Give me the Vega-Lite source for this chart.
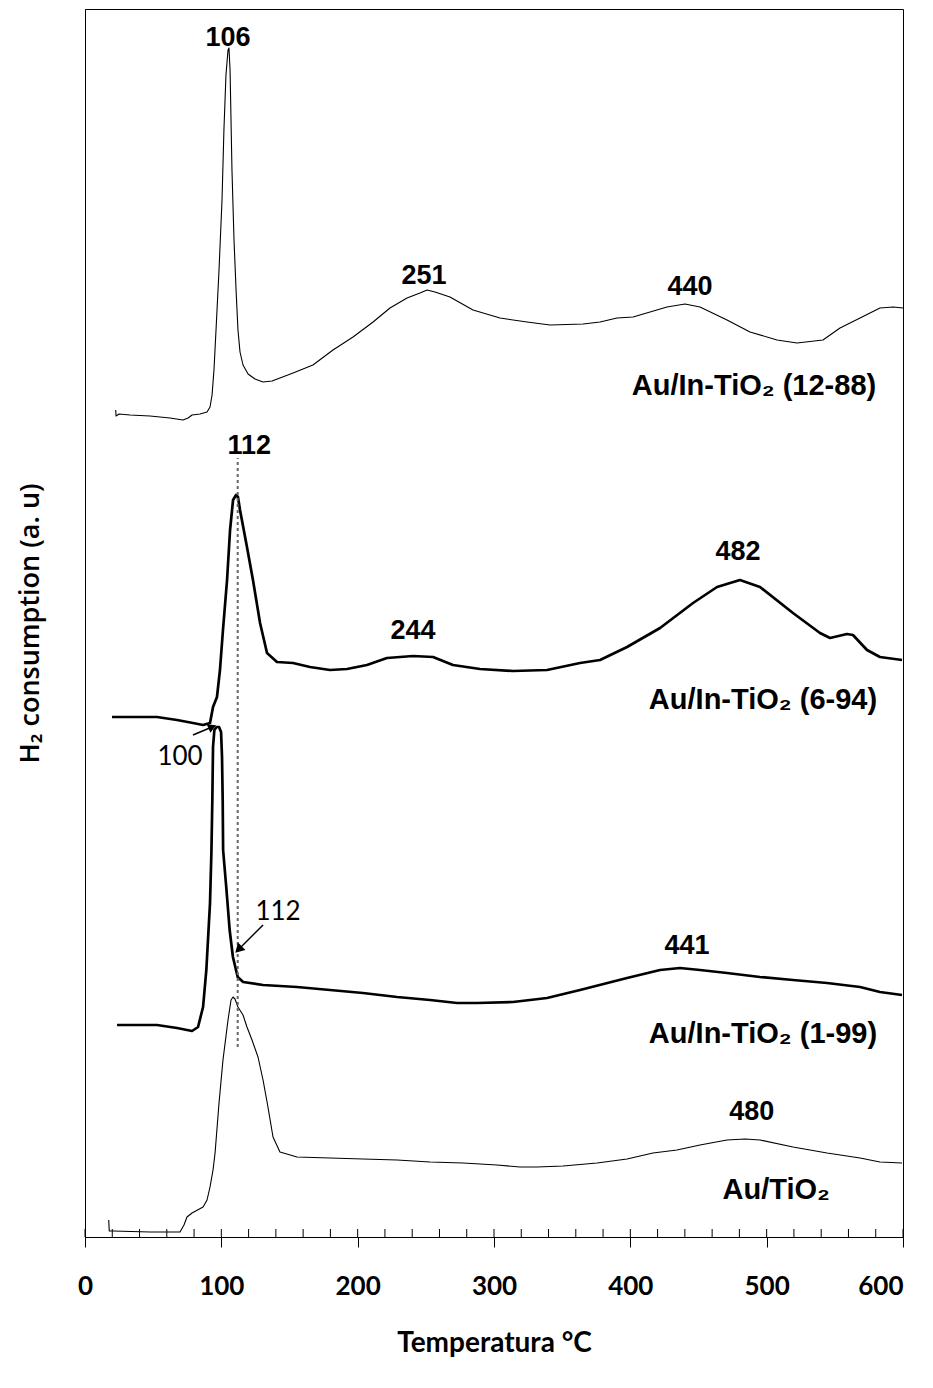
{
  "$schema": "https://vega.github.io/schema/vega-lite/v6.json",
  "width": 818,
  "height": 1228,
  "autosize": {"type": "none"},
  "padding": {"left": 85, "top": 9, "right": 30, "bottom": 151},
  "background": "white",
  "config": {"view": {"stroke": "black", "strokeWidth": 1}},
  "datasets": {
    "curves": [
      {"s":"A","x":22.5,"y":827},{"s":"A","x":22.8,"y":821},{"s":"A","x":25,"y":823},{"s":"A","x":33,"y":822},{"s":"A","x":47.7,"y":821},{"s":"A","x":62.3,"y":819},{"s":"A","x":71.9,"y":817},{"s":"A","x":75.6,"y":819},{"s":"A","x":78.5,"y":822},{"s":"A","x":84.4,"y":823},{"s":"A","x":89.5,"y":825},{"s":"A","x":91.7,"y":830},{"s":"A","x":93.2,"y":842},{"s":"A","x":94.6,"y":867},{"s":"A","x":96.1,"y":907},{"s":"A","x":98.3,"y":967},{"s":"A","x":100.5,"y":1037},{"s":"A","x":101.9,"y":1107},{"s":"A","x":103.4,"y":1162},{"s":"A","x":104.9,"y":1187},{"s":"A","x":105.6,"y":1189},{"s":"A","x":106.4,"y":1167},{"s":"A","x":107.8,"y":1067},{"s":"A","x":109.3,"y":997},{"s":"A","x":110.8,"y":947},{"s":"A","x":112.2,"y":907},{"s":"A","x":113.7,"y":885},{"s":"A","x":115.9,"y":872},{"s":"A","x":119.6,"y":863},{"s":"A","x":124.7,"y":858},{"s":"A","x":130.6,"y":855},{"s":"A","x":137.2,"y":856},{"s":"A","x":143,"y":859},{"s":"A","x":152.6,"y":864},{"s":"A","x":167.2,"y":872},{"s":"A","x":181.9,"y":887},{"s":"A","x":196.6,"y":900},{"s":"A","x":211.3,"y":915},{"s":"A","x":223.7,"y":929},{"s":"A","x":236.2,"y":939},{"s":"A","x":245.7,"y":944},{"s":"A","x":250.9,"y":947},{"s":"A","x":256.7,"y":945},{"s":"A","x":267.7,"y":940},{"s":"A","x":284.6,"y":927},{"s":"A","x":304.4,"y":919},{"s":"A","x":324.2,"y":915},{"s":"A","x":341.1,"y":912},{"s":"A","x":365.3,"y":913},{"s":"A","x":377.8,"y":915},{"s":"A","x":390.2,"y":919},{"s":"A","x":402,"y":920},{"s":"A","x":426.9,"y":930},{"s":"A","x":440.1,"y":933},{"s":"A","x":451.1,"y":930},{"s":"A","x":470.9,"y":917},{"s":"A","x":487.8,"y":905},{"s":"A","x":507.6,"y":897},{"s":"A","x":522.3,"y":894},{"s":"A","x":541.3,"y":897},{"s":"A","x":553.8,"y":909},{"s":"A","x":568.5,"y":919},{"s":"A","x":583.1,"y":929},{"s":"A","x":592.7,"y":930},{"s":"A","x":600,"y":929},
      {"s":"B","x":19.8,"y":520},{"s":"B","x":52.8,"y":520},{"s":"B","x":67.5,"y":517},{"s":"B","x":79.2,"y":514},{"s":"B","x":86.6,"y":512},{"s":"B","x":91.7,"y":514},{"s":"B","x":93.9,"y":530},{"s":"B","x":96.8,"y":540},{"s":"B","x":99,"y":567},{"s":"B","x":101.2,"y":607},{"s":"B","x":104.2,"y":657},{"s":"B","x":106.4,"y":707},{"s":"B","x":108.6,"y":737},{"s":"B","x":110.8,"y":742},{"s":"B","x":112.2,"y":740},{"s":"B","x":113.7,"y":727},{"s":"B","x":118.8,"y":690},{"s":"B","x":123.2,"y":657},{"s":"B","x":128.4,"y":614},{"s":"B","x":133.5,"y":584},{"s":"B","x":140.8,"y":575},{"s":"B","x":152.6,"y":574},{"s":"B","x":165,"y":570},{"s":"B","x":179.7,"y":567},{"s":"B","x":192.2,"y":568},{"s":"B","x":206.8,"y":572},{"s":"B","x":221.5,"y":579},{"s":"B","x":240.6,"y":581},{"s":"B","x":255.3,"y":580},{"s":"B","x":269.9,"y":572},{"s":"B","x":289.7,"y":568},{"s":"B","x":313.9,"y":566},{"s":"B","x":338.9,"y":567},{"s":"B","x":363.1,"y":574},{"s":"B","x":377.8,"y":577},{"s":"B","x":397.6,"y":590},{"s":"B","x":421.8,"y":609},{"s":"B","x":446,"y":634},{"s":"B","x":463.6,"y":650},{"s":"B","x":480.4,"y":657},{"s":"B","x":495.1,"y":650},{"s":"B","x":519.3,"y":624},{"s":"B","x":539.1,"y":604},{"s":"B","x":546.5,"y":599},{"s":"B","x":558.9,"y":603},{"s":"B","x":563.3,"y":602},{"s":"B","x":573.6,"y":587},{"s":"B","x":583.1,"y":580},{"s":"B","x":599.3,"y":577},
      {"s":"C","x":23.5,"y":212},{"s":"C","x":52.8,"y":212},{"s":"C","x":67.5,"y":209},{"s":"C","x":78.5,"y":206},{"s":"C","x":82.9,"y":210},{"s":"C","x":86.6,"y":230},{"s":"C","x":89,"y":267},{"s":"C","x":91.7,"y":334},{"s":"C","x":92.7,"y":384},{"s":"C","x":93.4,"y":437},{"s":"C","x":93.9,"y":490},{"s":"C","x":94.9,"y":507},{"s":"C","x":96.5,"y":510},{"s":"C","x":98.3,"y":510},{"s":"C","x":99.8,"y":505},{"s":"C","x":100.5,"y":480},{"s":"C","x":101,"y":437},{"s":"C","x":101.3,"y":387},{"s":"C","x":103.6,"y":350},{"s":"C","x":106.1,"y":307},{"s":"C","x":108.5,"y":280},{"s":"C","x":112,"y":260},{"s":"C","x":116,"y":255},{"s":"C","x":130.6,"y":252},{"s":"C","x":155.5,"y":250},{"s":"C","x":179.7,"y":247},{"s":"C","x":203.9,"y":244},{"s":"C","x":228.9,"y":240},{"s":"C","x":253.1,"y":237},{"s":"C","x":272.9,"y":234},{"s":"C","x":287.5,"y":234},{"s":"C","x":313.9,"y":235},{"s":"C","x":338.9,"y":239},{"s":"C","x":363.1,"y":247},{"s":"C","x":397.6,"y":259},{"s":"C","x":421.8,"y":267},{"s":"C","x":436.4,"y":269},{"s":"C","x":451.1,"y":267},{"s":"C","x":470.9,"y":264},{"s":"C","x":495.1,"y":260},{"s":"C","x":519.3,"y":257},{"s":"C","x":544.3,"y":254},{"s":"C","x":568.5,"y":250},{"s":"C","x":583.1,"y":245},{"s":"C","x":599.3,"y":242},
      {"s":"D","x":17.4,"y":17},{"s":"D","x":17.8,"y":6},{"s":"D","x":20.5,"y":6},{"s":"D","x":47.7,"y":5},{"s":"D","x":69.7,"y":5},{"s":"D","x":72.6,"y":12},{"s":"D","x":74.8,"y":20},{"s":"D","x":78.5,"y":24},{"s":"D","x":86.6,"y":30},{"s":"D","x":89.5,"y":37},{"s":"D","x":91.7,"y":50},{"s":"D","x":93.9,"y":67},{"s":"D","x":95.4,"y":84},{"s":"D","x":98.3,"y":134},{"s":"D","x":101.2,"y":177},{"s":"D","x":104.9,"y":217},{"s":"D","x":107.1,"y":237},{"s":"D","x":108.6,"y":240},{"s":"D","x":110,"y":238},{"s":"D","x":112.2,"y":230},{"s":"D","x":115.9,"y":222},{"s":"D","x":118.8,"y":210},{"s":"D","x":122.5,"y":197},{"s":"D","x":126.9,"y":180},{"s":"D","x":130.6,"y":157},{"s":"D","x":134.2,"y":130},{"s":"D","x":137.9,"y":100},{"s":"D","x":143,"y":85},{"s":"D","x":155.5,"y":80},{"s":"D","x":179.7,"y":79},{"s":"D","x":203.9,"y":78},{"s":"D","x":228.9,"y":77},{"s":"D","x":253.1,"y":75},{"s":"D","x":277.3,"y":74},{"s":"D","x":302.2,"y":72},{"s":"D","x":319.1,"y":70},{"s":"D","x":331.5,"y":70},{"s":"D","x":350.6,"y":71},{"s":"D","x":375.6,"y":74},{"s":"D","x":397.6,"y":78},{"s":"D","x":416.6,"y":84},{"s":"D","x":434.2,"y":87},{"s":"D","x":451.1,"y":92},{"s":"D","x":470.9,"y":97},{"s":"D","x":484.1,"y":98},{"s":"D","x":495.1,"y":97},{"s":"D","x":519.3,"y":90},{"s":"D","x":544.3,"y":84},{"s":"D","x":568.5,"y":79},{"s":"D","x":583.1,"y":75},{"s":"D","x":599.3,"y":74}
    ],
    "minorTicks": [
      {"x":0},{"x":20},{"x":40},{"x":60},{"x":80},{"x":100},{"x":120},{"x":140},{"x":160},{"x":180},{"x":200},{"x":220},{"x":240},{"x":260},{"x":280},{"x":300},{"x":320},{"x":340},{"x":360},{"x":380},{"x":400},{"x":420},{"x":440},{"x":460},{"x":480},{"x":500},{"x":520},{"x":540},{"x":560},{"x":580},{"x":600}
    ],
    "peakLabels": [
      {"label":"106","x":104.9,"y":1199},
      {"label":"251","x":248.7,"y":961},
      {"label":"440","x":443.8,"y":950},
      {"label":"112","x":120.5,"y":791},
      {"label":"244","x":240.6,"y":606},
      {"label":"482","x":479,"y":685},
      {"label":"441","x":441.6,"y":291},
      {"label":"480","x":489,"y":125}
    ],
    "sampleLabels": [
      {"label":"Au/In-TiO₂ (12-88)","x":490.7,"y":851},
      {"label":"Au/In-TiO₂ (6-94)","x":497.3,"y":537},
      {"label":"Au/In-TiO₂ (1-99)","x":497.3,"y":203},
      {"label":"Au/TiO₂","x":507,"y":47}
    ],
    "arrowLabels": [
      {"label":"100","x":69.7,"y":480},
      {"label":"112","x":141.6,"y":325}
    ],
    "arrowLines": [
      {"x":79.2,"y":502,"x2":93.2,"y2":510},
      {"x":130.6,"y":312,"x2":112.6,"y2":287.5}
    ],
    "dashed": [{"x":112,"y":190,"y2":779}]
  },
  "encoding": {
    "x": {"type": "quantitative", "scale": {"domain": [0, 600], "nice": false, "zero": false}},
    "y": {"type": "quantitative", "scale": {"domain": [0, 1228], "nice": false, "zero": false}}
  },
  "layer": [
    {
      "data": {"name": "curves"},
      "transform": [{"filter": {"field": "s", "oneOf": ["A", "D"]}}],
      "mark": {"type": "line", "color": "black", "strokeWidth": 1.1, "strokeJoin": "round"},
      "encoding": {
        "x": {"field": "x", "type": "quantitative",
          "axis": {"values": [0,100,200,300,400,500,600], "tickSize": 10, "tickColor": "black", "domainColor": "black", "grid": false,
            "labelFlush": false, "labelAlign": {"condition": {"test": "datum.value == 600", "value": "right"}, "value": "center"},
            "labelFont": "Lato", "labelFontWeight": "bold", "labelFontSize": 26, "labelColor": "black", "labelPadding": 26,
            "title": "Temperatura °C", "titleFont": "Lato", "titleFontWeight": "bold", "titleFontSize": 28, "titleColor": "black", "titlePadding": 30}},
        "y": {"field": "y", "type": "quantitative",
          "axis": {"labels": false, "ticks": false, "grid": false, "domainColor": "black",
            "title": "H₂ consumption (a. u)", "titleFont": "Open Sans", "titleFontWeight": 600, "titleFontSize": 27, "titleColor": "black", "titlePadding": 41}},
        "detail": {"field": "s", "type": "nominal"}
      }
    },
    {
      "data": {"name": "curves"},
      "transform": [{"filter": {"field": "s", "oneOf": ["B", "C"]}}],
      "mark": {"type": "line", "color": "black", "strokeWidth": 2.7, "strokeJoin": "round"},
      "encoding": {
        "x": {"field": "x", "type": "quantitative"},
        "y": {"field": "y", "type": "quantitative"},
        "detail": {"field": "s", "type": "nominal"}
      }
    },
    {
      "data": {"name": "dashed"},
      "mark": {"type": "rule", "color": "#666666", "strokeWidth": 2, "strokeDash": [3, 3]},
      "encoding": {
        "x": {"field": "x", "type": "quantitative"},
        "y": {"field": "y", "type": "quantitative"},
        "y2": {"field": "y2"}
      }
    },
    {
      "data": {"name": "minorTicks"},
      "mark": {"type": "rule", "color": "black", "strokeWidth": 1},
      "encoding": {
        "x": {"field": "x", "type": "quantitative"},
        "y": {"datum": 0},
        "y2": {"datum": 8}
      }
    },
    {
      "data": {"name": "arrowLines"},
      "mark": {"type": "rule", "color": "black", "strokeWidth": 1.5},
      "encoding": {
        "x": {"field": "x", "type": "quantitative"},
        "y": {"field": "y", "type": "quantitative"},
        "x2": {"field": "x2"},
        "y2": {"field": "y2"}
      }
    },
    {
      "data": {"values": [{"x": 93.4, "y": 510.1}]},
      "mark": {"type": "point", "shape": "triangle-up", "filled": true, "color": "black", "size": 90, "angle": 67, "opacity": 1},
      "encoding": {
        "x": {"field": "x", "type": "quantitative"},
        "y": {"field": "y", "type": "quantitative"}
      }
    },
    {
      "data": {"values": [{"x": 112.6, "y": 287.5}]},
      "mark": {"type": "point", "shape": "triangle-up", "filled": true, "color": "black", "size": 110, "angle": 225, "opacity": 1},
      "encoding": {
        "x": {"field": "x", "type": "quantitative"},
        "y": {"field": "y", "type": "quantitative"}
      }
    },
    {
      "data": {"name": "peakLabels"},
      "mark": {"type": "text", "font": "Liberation Sans", "fontWeight": "bold", "fontSize": 27, "color": "black", "align": "center", "baseline": "middle"},
      "encoding": {
        "x": {"field": "x", "type": "quantitative"},
        "y": {"field": "y", "type": "quantitative"},
        "text": {"field": "label"}
      }
    },
    {
      "data": {"name": "sampleLabels"},
      "mark": {"type": "text", "font": "Liberation Sans", "fontWeight": "bold", "fontSize": 29, "color": "black", "align": "center", "baseline": "middle"},
      "encoding": {
        "x": {"field": "x", "type": "quantitative"},
        "y": {"field": "y", "type": "quantitative"},
        "text": {"field": "label"}
      }
    },
    {
      "data": {"name": "arrowLabels"},
      "mark": {"type": "text", "font": "Lato", "fontSize": 26, "color": "black", "align": "center", "baseline": "middle"},
      "encoding": {
        "x": {"field": "x", "type": "quantitative"},
        "y": {"field": "y", "type": "quantitative"},
        "text": {"field": "label"}
      }
    }
  ]
}
